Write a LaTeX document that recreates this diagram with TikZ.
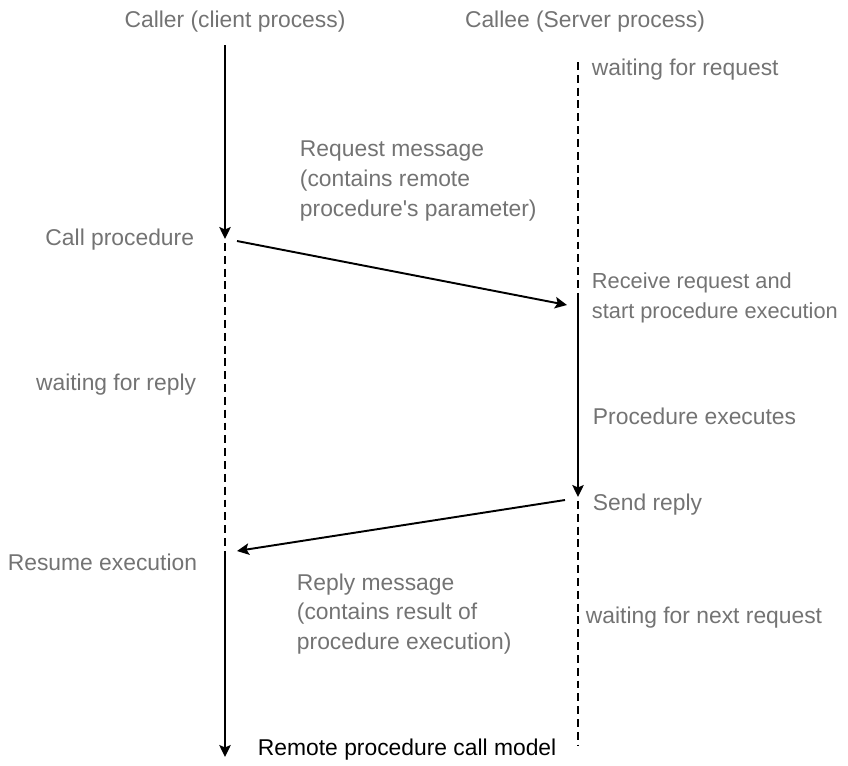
\documentclass[tikz,border=0pt]{standalone}
\usepackage{fontspec}
\setmainfont{Liberation Sans}
\usetikzlibrary{arrows.meta, positioning}
\definecolor{cgrey}{HTML}{737373}
\tikzset{
  every picture/.style={line width=1.1pt},
  note/.style={font=\fontsize{13}{17}\selectfont, text=cgrey, align=left, inner sep=0pt},
  title/.style={font=\fontsize{13}{17}\selectfont, text=black, inner sep=0pt},
  life/.style={draw=black, line width=1.1pt},
  wait/.style={life, line width=1.3pt, dash pattern=on 4.5pt off 2.8pt},
  arrow/.style={-{Stealth[length=2.4mm, width=2.3mm, inset=0.5mm]}, draw=black, line width=1.1pt},
}

\begin{document}
\begin{tikzpicture}[x=0.02cm, y=-0.02cm]
  \useasboundingbox (0,0) rectangle (848,765);
  \node[note] (caller) at (235,22) {Caller (client process)};
  \node[note] (callee) at (585,22) {Callee (Server process)};
  % client lifeline
  \coordinate (c0) at (225,45);
  \coordinate (c1) at (225,239);
  \coordinate (c2) at (225,243);
  \coordinate (c3) at (225,556);
  \coordinate (c4) at (225,757);
  \draw[arrow] (c0) -- (c1);
  \draw[wait] (c2) -- (c3);
  \draw[arrow] (c3) -- (c4);
  % server lifeline
  \coordinate (s0) at (578,62);
  \coordinate (s1) at (578,300);
  \coordinate (s2) at (578,497);
  \coordinate (s3) at (578,501);
  \coordinate (s4) at (578,745);
  \draw[wait] (s0) -- (s1);
  \draw[arrow] (s1) -- (s2);
  \draw[wait] (s3) -- (s4);
  % messages
  \coordinate (rq0) at (237,241);
  \coordinate (rq1) at (567,305);
  \coordinate (rp0) at (565,500);
  \coordinate (rp1) at (237,551);
  \draw[arrow] (rq0) -- (rq1);
  \draw[arrow] (rp0) -- (rp1);
  % labels
  \node[note, anchor=west] (waitreq) at (591,70) {waiting for request};
  \node[note, anchor=west] (reqmsg) at (299,181) {Request message\\(contains remote\\procedure\textquotesingle s parameter)};
  \node[note, anchor=east] (call) at (195,240) {Call procedure};
  \node[note, anchor=west, font=\fontsize{12.4}{17}\selectfont] (recv) at (591,298) {Receive request and\\start procedure execution};
  \node[note, anchor=east] (waitrep) at (197,385) {waiting for reply};
  \node[note, anchor=west] (exec) at (592,416) {Procedure executes};
  \node[note, anchor=west] (send) at (592,505) {Send reply};
  \node[note, anchor=east] (resume) at (198,562) {Resume execution};
  \node[note, anchor=west] (repmsg) at (296,614) {Reply message\\(contains result of\\procedure execution)};
  \node[note, anchor=west] (waitnext) at (585,618) {waiting for next request};
  \node[title, anchor=west] (cap) at (257,750) {Remote procedure call model};
\end{tikzpicture}
\end{document}
